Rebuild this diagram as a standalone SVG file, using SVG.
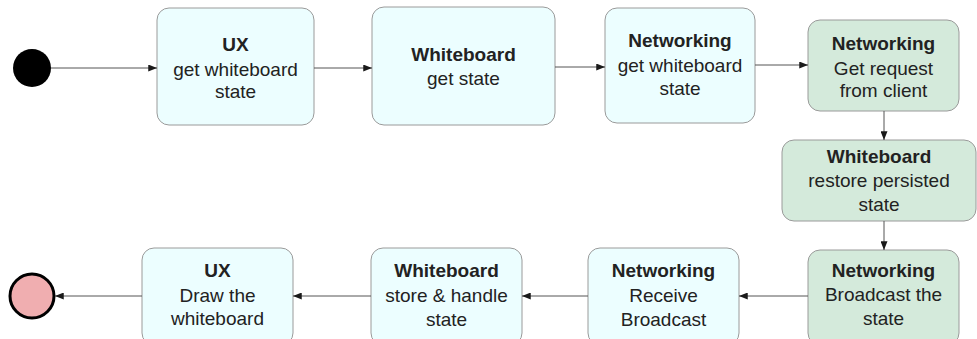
<svg xmlns="http://www.w3.org/2000/svg" width="977" height="339" viewBox="0 0 977 339">
<defs>
<marker id="arr" viewBox="0 0 10 8" refX="10" refY="4" markerWidth="9" markerHeight="7" markerUnits="userSpaceOnUse" orient="auto">
<path d="M0,0 L10,4 L0,8 Z" fill="#1a1a1a"/>
</marker>
<style>
.blue{fill:#ecfeff;stroke:#9a9a9a;stroke-width:1}
.green{fill:#d4eadb;stroke:#9a9a9a;stroke-width:1}
.t{font-family:"Liberation Sans",Arial,sans-serif;font-size:19px;fill:#222;text-anchor:middle}
.b{font-weight:bold}
.c{fill:none;stroke:#555;stroke-width:1;marker-end:url(#arr)}
</style>
</defs>
<rect width="977" height="339" fill="#ffffff"/>
<g id="start"><circle cx="32" cy="68" r="19" fill="#000"/></g>
<g id="end"><circle cx="32" cy="296" r="22" fill="#f0aeb0" stroke="#000" stroke-width="3"/></g>
<g id="n1"><rect class="blue" x="157" y="8" width="157" height="117" rx="12"/>
<text class="t b" x="235.5" y="51">UX</text><text class="t" x="235.5" y="76">get whiteboard</text><text class="t" x="235.5" y="98">state</text></g>
<g id="n2"><rect class="blue" x="372" y="7" width="183" height="118" rx="12"/>
<text class="t b" x="463.5" y="61">Whiteboard</text><text class="t" x="463.5" y="85">get state</text></g>
<g id="n3"><rect class="blue" x="605" y="8" width="150" height="115" rx="12"/>
<text class="t b" x="680" y="47">Networking</text><text class="t" x="680" y="72">get whiteboard</text><text class="t" x="680" y="95">state</text></g>
<g id="n4"><rect class="green" x="808" y="20" width="151" height="91" rx="12"/>
<text class="t b" x="883.5" y="50">Networking</text><text class="t" x="883.5" y="75">Get request</text><text class="t" x="883.5" y="97">from client</text></g>
<g id="n5"><rect class="green" x="782" y="140" width="194" height="81" rx="12"/>
<text class="t b" x="879" y="163">Whiteboard</text><text class="t" x="879" y="187">restore persisted</text><text class="t" x="879" y="211">state</text></g>
<g id="n6"><rect class="green" x="808" y="250" width="151" height="95" rx="12"/>
<text class="t b" x="883.5" y="277">Networking</text><text class="t" x="883.5" y="301">Broadcast the</text><text class="t" x="883.5" y="325">state</text></g>
<g id="n7"><rect class="blue" x="588" y="248" width="151" height="97" rx="12"/>
<text class="t b" x="663.5" y="277">Networking</text><text class="t" x="663.5" y="302">Receive</text><text class="t" x="663.5" y="326">Broadcast</text></g>
<g id="n8"><rect class="blue" x="371" y="248" width="151" height="97" rx="12"/>
<text class="t b" x="446.5" y="277">Whiteboard</text><text class="t" x="446.5" y="302">store &amp; handle</text><text class="t" x="446.5" y="326">state</text></g>
<g id="n9"><rect class="blue" x="142" y="248" width="151" height="97" rx="12"/>
<text class="t b" x="217.5" y="277">UX</text><text class="t" x="217.5" y="302">Draw the</text><text class="t" x="217.5" y="325">whiteboard</text></g>
<g id="connectors">
<line class="c" x1="51" y1="68" x2="157" y2="68"/>
<line class="c" x1="314" y1="68" x2="372" y2="68"/>
<line class="c" x1="555" y1="67" x2="605" y2="67"/>
<line class="c" x1="755" y1="65" x2="808" y2="65"/>
<line class="c" x1="884" y1="111" x2="884" y2="140"/>
<line class="c" x1="884" y1="221" x2="884" y2="250"/>
<line class="c" x1="808" y1="296" x2="739" y2="296"/>
<line class="c" x1="588" y1="296" x2="522" y2="296"/>
<line class="c" x1="371" y1="296" x2="293" y2="296"/>
<line class="c" x1="142" y1="296" x2="55" y2="296"/>
</g>
</svg>
